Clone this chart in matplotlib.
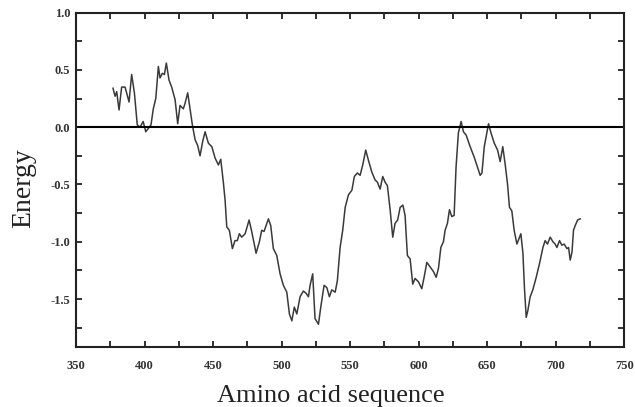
import matplotlib
matplotlib.use("Agg")
import matplotlib.pyplot as plt
from matplotlib.ticker import MultipleLocator, FormatStrFormatter

residue = [377, 378.5, 379.7, 381.4, 383.3, 385.8, 388.7, 390.6, 392.6, 394.7,
           396.7, 399, 400.9, 402.8, 404.7, 406.4, 408.2, 410.1, 411.3, 413,
           414.5, 415.9, 417.9, 419.8, 422.3, 424.2, 425.9, 428.3, 429.6, 431.5,
           433.2, 434.9, 436.9, 438.8, 440.5, 442.5, 444.2, 446.6, 449.1, 451.5,
           453.9, 455.6, 457.5, 458.8, 460, 461.9, 464.1, 466, 467.7, 469.2,
           470.9, 473.4, 476.3, 478.2, 481.4, 483.8, 485.5, 487.2, 490.4, 492.1,
           494, 496.5, 498.9, 501.3, 503.8, 505.7, 507.5, 509.3, 511.1, 513.5,
           515.9, 517.9, 519.6, 520.8, 522.7, 524.4, 526.9, 528.6, 531, 533,
           534.9, 536.6, 539.1, 540.7, 542.7, 544.6, 546.4, 548.8, 551.3, 553.1,
           555.3, 557.3, 559.2, 561.4, 563.4, 565.8, 568.2, 569.9, 571.9, 573.8,
           575.5, 577.2, 579.2, 581.1, 582.8, 584.7, 586.5, 588.5, 590.1, 591.8,
           593.8, 595.7, 597.4, 599.9, 602.3, 604, 606, 608.4, 610.8, 612.8,
           614.5, 616.2, 618.1, 619.3, 621, 622.5, 624.2, 625.9, 627.3, 629,
           631, 632.7, 634.7, 637.6, 640.5, 643, 644.9, 646.2, 647.9, 649.8,
           651, 652.8, 655.2, 657.6, 659.5, 661.4, 663.1, 664.8, 666.3, 668,
           669.7, 671.7, 673.6, 674.6, 676.1, 677.2, 678.5, 679.7, 681.4, 683.3,
           685.8, 688.2, 690.7, 692.3, 694, 696, 698, 699.6, 700.9, 702.8,
           704.5, 706.2, 708.2, 709.4, 710.6, 711.9, 713, 714.2, 716, 717.9]
energy = [0.34, 0.27, 0.31, 0.15, 0.35, 0.35, 0.22, 0.46, 0.30, 0.02,
          0.0, 0.05, -0.04, -0.01, 0.02, 0.16, 0.25, 0.53, 0.43, 0.47,
          0.46, 0.56, 0.41, 0.35, 0.24, 0.03, 0.19, 0.16, 0.21, 0.30,
          0.16, 0.02, -0.11, -0.16, -0.25, -0.12, -0.04, -0.14, -0.17, -0.27,
          -0.33, -0.28, -0.48, -0.64, -0.87, -0.90, -1.06, -0.99, -0.99, -0.93,
          -0.96, -0.93, -0.81, -0.91, -1.10, -1.00, -0.90, -0.91, -0.80, -0.86,
          -1.06, -1.12, -1.28, -1.38, -1.44, -1.63, -1.69, -1.57, -1.63, -1.48,
          -1.43, -1.45, -1.48, -1.38, -1.28, -1.67, -1.72, -1.57, -1.38, -1.40,
          -1.48, -1.42, -1.44, -1.34, -1.05, -0.90, -0.70, -0.59, -0.55, -0.43,
          -0.40, -0.42, -0.33, -0.20, -0.29, -0.39, -0.46, -0.48, -0.54, -0.43,
          -0.48, -0.51, -0.72, -0.96, -0.84, -0.81, -0.70, -0.68, -0.77, -1.12,
          -1.15, -1.37, -1.32, -1.35, -1.41, -1.31, -1.18, -1.22, -1.26, -1.31,
          -1.23, -1.05, -1.00, -0.90, -0.84, -0.72, -0.78, -0.77, -0.35, -0.05,
          0.05, -0.04, -0.07, -0.17, -0.26, -0.35, -0.42, -0.40, -0.17, -0.05,
          0.03, -0.05, -0.14, -0.20, -0.30, -0.17, -0.32, -0.49, -0.70, -0.73,
          -0.90, -1.02, -0.96, -0.93, -1.10, -1.40, -1.66, -1.60, -1.48, -1.42,
          -1.31, -1.19, -1.05, -0.99, -1.02, -0.96, -1.00, -1.02, -1.05, -0.99,
          -1.03, -1.02, -1.06, -1.05, -1.16, -1.09, -0.90, -0.86, -0.81, -0.80]

x_label = "Amino acid sequence"
y_label = "Energy"

fig = plt.figure(figsize=(6.35, 4.07), dpi=100)
ax = fig.add_axes([0.1197, 0.147, 0.8633, 0.822])

ax.plot(residue, energy, color="#3a3a3a", linewidth=1.1)
ax.axhline(0.0, color="black", linewidth=1.5)

ax.set_xlim(350, 750)
ax.set_ylim(-1.92, 1.0)
ax.xaxis.set_major_locator(MultipleLocator(50))
ax.xaxis.set_minor_locator(MultipleLocator(25))
ax.yaxis.set_major_locator(MultipleLocator(0.5))
ax.yaxis.set_minor_locator(MultipleLocator(0.25))
ax.yaxis.set_major_formatter(FormatStrFormatter("%.1f"))
ax.xaxis.set_major_formatter(FormatStrFormatter("%d"))

ax.tick_params(which="both", direction="in", top=True, right=True,
               width=1.3, length=4, color="#222222", pad=4)
ax.tick_params(axis="x", which="major", pad=9)
for spine in ax.spines.values():
    spine.set_linewidth(1.5)
    spine.set_color("#222222")

for lab in ax.get_xticklabels() + ax.get_yticklabels():
    lab.set_fontfamily("Liberation Serif")
    lab.set_fontweight("bold")
    lab.set_fontsize(9)
    lab.set_color("#333333")

ax.set_xlabel(x_label, fontfamily="Liberation Serif", fontsize=19, color="#222222")
ax.xaxis.set_label_coords(0.465, -0.1645)
ax.xaxis.label.set_verticalalignment("baseline")

ax.set_ylabel(y_label, fontfamily="Liberation Serif", fontsize=20, color="#222222")
ax.yaxis.set_label_coords(-0.095, 0.476)
ax.yaxis.label.set_verticalalignment("center")
ax.yaxis.label.set_horizontalalignment("center")

fig.savefig("out.png", dpi=100)
